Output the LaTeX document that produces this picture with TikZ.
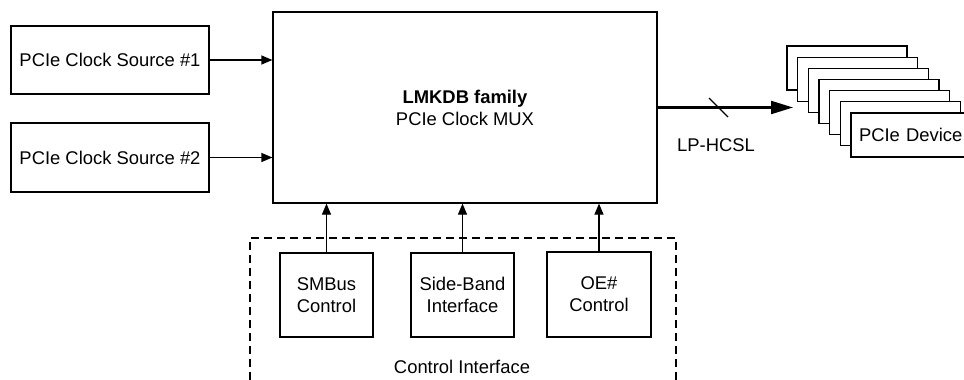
\documentclass[tikz,border=0pt]{standalone}
\usepackage{fontspec}
\setmainfont{Liberation Sans}
\usetikzlibrary{arrows.meta}
\begin{document}
\begin{tikzpicture}[x=1pt,y=-1pt,
  font=\fontsize{18.4}{22}\selectfont,
  box/.style={draw, line width=1.2pt, inner sep=0pt, align=center, fill=white},
  arr/.style={line width=1.2pt, -{Triangle[length=11pt,width=9pt]}},
  bigarr/.style={line width=2.2pt, -{Triangle[length=22pt,width=13pt]}},
  dashframe/.style={line width=1.2pt, dash pattern=on 8pt off 5pt}]
\useasboundingbox (0,0) rectangle (964,380);
\node[box, minimum width=198pt, minimum height=68pt] (s1) at (110,60) {PCIe Clock Source \#1};
\node[box, minimum width=198pt, minimum height=69pt] (s2) at (110,157.5) {PCIe Clock Source \#2};
\node[box, minimum width=384pt, minimum height=191pt] (main) at (465,107.5) {\textbf{LMKDB family}\\PCIe Clock MUX};
\node[box, minimum width=93pt, minimum height=84pt] (sm) at (326.5,295) {SMBus\\Control};
\node[box, minimum width=103pt, minimum height=84pt] (sb) at (462.5,295) {Side-Band\\Interface};
\node[box, minimum width=104pt, minimum height=85pt] (oe) at (599,294.5) {OE\#\\Control};
\draw[arr] (s1.east) -- (s1.east -| main.west);
\draw[arr] (s2.east) -- (s2.east -| main.west);
\draw[arr] (sm.north) -- (sm.north |- main.south);
\draw[arr] (sb.north) -- (sb.north |- main.south);
\draw[arr] (oe.north) -- (oe.north |- main.south);
% device stack
\foreach \k in {6,5,...,1}{
  \node[box, minimum width=120pt, minimum height=44pt] (dev\k) at ({911-10.67*\k},{135-11.17*\k}) {};
}
\node[box, minimum width=120pt, minimum height=44pt, text width=116pt, align=left, inner sep=2pt] (dev0) at (911,135) {\hspace{6pt}PCIe Device};
\coordinate (outend) at (793,107.5);
\draw[bigarr] (main.east) -- (outend);
\coordinate (slash) at (718.5,107.5);
\draw[line width=1.3pt] ([shift={(-9.5,-9.5)}]slash) -- ([shift={(9.5,9.5)}]slash);
\node (lphcsl) at (716,145) {LP-HCSL};
% control interface frame
\coordinate (fa) at (250,380);
\coordinate (fb) at (250,238);
\coordinate (fc) at (676,238);
\coordinate (fd) at (676,380);
\draw[dashframe] (fa) -- (fb) -- (fc) -- (fd);
\node (ci) at (462,367) {Control Interface};
\end{tikzpicture}
\end{document}
